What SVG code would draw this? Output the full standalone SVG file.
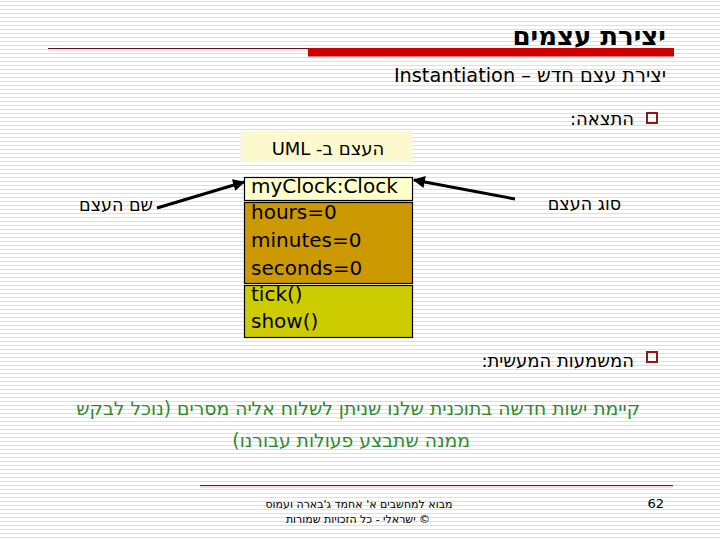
<svg xmlns="http://www.w3.org/2000/svg" width="720" height="540" viewBox="0 0 720 540">
<defs>
<pattern id="stripes" width="8" height="4" patternUnits="userSpaceOnUse">
<rect x="0" y="0" width="8" height="4" fill="#ffffff"/>
<rect x="0" y="1" width="8" height="1" fill="#dedede"/>
</pattern>
<marker id="arr" viewBox="0 0 10 10" refX="9" refY="5" markerWidth="4.5" markerHeight="4" orient="auto" markerUnits="strokeWidth">
<path d="M0,0 L10,5 L0,10 Z" fill="#000"/>
</marker>
</defs>
<style>
.heb{font-family:"DejaVu Sans","Liberation Sans",sans-serif;}
.uml{font-family:"DejaVu Sans","Liberation Sans",sans-serif;font-size:20px;fill:#000;}
.box{stroke:#000;stroke-width:1.2;}
.bullet{fill:none;stroke:#8b1a1a;stroke-width:2;}
.green{fill:#2e8b2e;font-size:18.8px;}
</style>
<rect width="720" height="540" fill="url(#stripes)"/>
<g id="title">
<text class="heb" x="666" y="45" direction="rtl" text-anchor="start" font-size="26" font-weight="bold" fill="#000">יצירת עצמים</text>
<line x1="48" y1="48.5" x2="308" y2="48.5" stroke="#4a1a2a" stroke-width="1"/>
<line x1="48" y1="50" x2="308" y2="50" stroke="#ffd8d8" stroke-width="2"/>
<rect x="308" y="48" width="366" height="8.5" fill="#cc0000"/>
</g>
<g id="subtitle">
<text class="heb" x="666" y="82" direction="rtl" text-anchor="start" font-size="19.3" fill="#000">יצירת עצם חדש – Instantiation</text>
</g>
<g id="bullet1">
<rect class="bullet" x="647" y="113" width="10" height="10"/>
<text class="heb" x="634" y="125" direction="rtl" text-anchor="start" font-size="18" fill="#000">התצאה:</text>
</g>
<g id="uml-label">
<rect x="241" y="131" width="171" height="31" fill="#fdf9cf"/>
<text class="heb" x="328" y="155" text-anchor="middle" font-size="18" fill="#000">UML -העצם ב</text>
</g>
<g id="uml-object">
<rect class="box" x="244.5" y="177.5" width="168" height="23" fill="#ffffcc"/>
<text class="uml" x="251" y="193">myClock:Clock</text>
<rect class="box" x="244.5" y="202.5" width="168" height="81" fill="#cc9900"/>
<text class="uml" x="251" y="219">hours=0</text>
<text class="uml" x="251" y="247">minutes=0</text>
<text class="uml" x="251" y="275">seconds=0</text>
<rect class="box" x="244.5" y="285.5" width="168" height="52" fill="#cccc00"/>
<text class="uml" x="251" y="301">tick()</text>
<text class="uml" x="251" y="328">show()</text>
</g>
<g id="name-label">
<text class="heb" x="153" y="211" direction="rtl" text-anchor="start" font-size="17.5" fill="#000">שם העצם</text>
</g>
<g id="type-label">
<text class="heb" x="621" y="210" direction="rtl" text-anchor="start" font-size="17.5" fill="#000">סוג העצם</text>
</g>
<g id="connectors">
<line x1="157" y1="208" x2="244" y2="182" stroke="#000" stroke-width="3" marker-end="url(#arr)"/>
<line x1="515" y1="199" x2="414" y2="180" stroke="#000" stroke-width="3" marker-end="url(#arr)"/>
</g>
<g id="bullet2">
<rect class="bullet" x="647" y="352" width="10" height="10"/>
<text class="heb" x="634" y="367" direction="rtl" text-anchor="start" font-size="18" fill="#000">המשמעות המעשית:</text>
</g>
<g id="meaning">
<text class="heb green" x="640" y="415" direction="rtl" text-anchor="start">קיימת ישות חדשה בתוכנית שלנו שניתן לשלוח אליה מסרים (נוכל לבקש</text>
<text class="heb green" x="470" y="447" direction="rtl" text-anchor="start">ממנה שתבצע פעולות עבורנו)</text>
</g>
<g id="footer">
<line x1="200" y1="485.5" x2="673" y2="485.5" stroke="#6b1a2a" stroke-width="1"/>
<line x1="200" y1="487" x2="673" y2="487" stroke="#ffd8d8" stroke-width="2"/>
<text class="heb" x="359" y="508" text-anchor="middle" font-size="11" fill="#000">מבוא למחשבים א' אחמד ג'בארה ועמוס</text>
<text class="heb" x="358" y="523" text-anchor="middle" font-size="11" fill="#000">ישראלי - כל הזכויות שמורות ©</text>
<text class="heb" x="664" y="508" text-anchor="end" font-size="13" fill="#000">62</text>
</g>
</svg>
